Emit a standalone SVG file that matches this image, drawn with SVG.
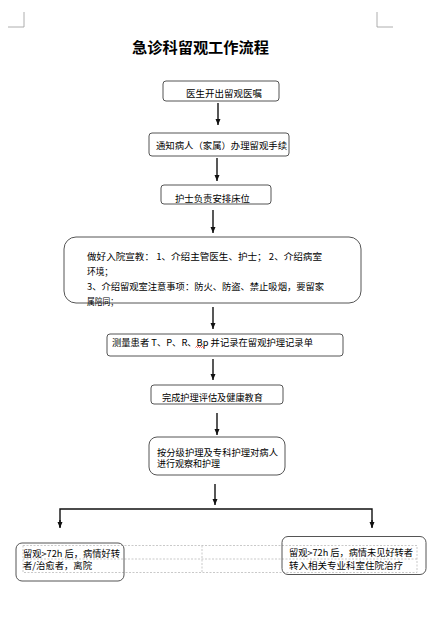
<svg xmlns="http://www.w3.org/2000/svg" width="440" height="618" viewBox="0 0 440 618">
<defs>
<style>
.box{fill:none;stroke:#555;stroke-width:1}
.t{font-family:"Noto Sans CJK SC","Liberation Sans",sans-serif;font-size:9px;fill:#000}
.title{font-family:"Noto Sans CJK SC","Liberation Sans",sans-serif;font-size:15px;font-weight:bold;fill:#000}
.ln{stroke:#111;stroke-width:1.4;fill:none}
.grid{stroke:#bbb;stroke-width:0.8;stroke-dasharray:2 1.5;fill:none}
.mark{stroke:#999;stroke-width:0.8;fill:none}
</style>
<marker id="ah" markerWidth="6" markerHeight="6" refX="6" refY="3" orient="auto" markerUnits="userSpaceOnUse" viewBox="0 0 6 6">
<path d="M0,0.5 L6,3 L0,5.5 Z" fill="#111"/>
</marker>
</defs>
<rect width="440" height="618" fill="#fff"/>
<!-- page corner marks -->
<path class="mark" d="M8,27 H24 V12 M377,12 V27 H393"/>
<text class="title" x="132" y="53" textLength="137" lengthAdjust="spacingAndGlyphs">急诊科留观工作流程</text>

<!-- dashed grid -->
<g id="grid">
<rect class="grid" x="23" y="545.5" width="394" height="27"/>
<line class="grid" x1="23" y1="559" x2="417" y2="559"/>
<line class="grid" x1="202" y1="545.5" x2="202" y2="572.5"/>
</g>

<g id="connectors">
<line class="ln" x1="218" y1="103" x2="218" y2="125" marker-end="url(#ah)"/>
<line class="ln" x1="217" y1="158" x2="217" y2="181" marker-end="url(#ah)"/>
<line class="ln" x1="213" y1="210" x2="213" y2="233" marker-end="url(#ah)"/>
<line class="ln" x1="213" y1="307" x2="213" y2="329" marker-end="url(#ah)"/>
<line class="ln" x1="213" y1="359" x2="213" y2="380" marker-end="url(#ah)"/>
<line class="ln" x1="217" y1="413" x2="217" y2="435" marker-end="url(#ah)"/>
<line class="ln" x1="215" y1="484" x2="215" y2="505" marker-end="url(#ah)"/>
<path class="ln" d="M60,527 V509 H372 V527" stroke-width="2"/>
<line class="ln" x1="60" y1="520" x2="60" y2="528" marker-end="url(#ah)"/>
<line class="ln" x1="372" y1="520" x2="372" y2="528" marker-end="url(#ah)"/>
</g>

<g id="n1">
<rect class="box" x="163" y="81" width="116" height="20" rx="3"/>
<text class="t" x="186" y="97" textLength="76" lengthAdjust="spacingAndGlyphs">医生开出留观医嘱</text>
</g>
<g id="n2">
<rect class="box" x="149" y="133" width="140" height="23" rx="3"/>
<text class="t" x="156" y="149" textLength="131" lengthAdjust="spacingAndGlyphs">通知病人（家属）办理留观手续</text>
</g>
<g id="n3">
<rect class="box" x="161" y="185" width="110" height="19" rx="3"/>
<text class="t" x="175" y="201.5" textLength="75" lengthAdjust="spacingAndGlyphs">护士负责安排床位</text>
</g>
<g id="n4">
<rect class="box" x="64" y="237" width="297" height="66" rx="12"/>
<text class="t" x="87" y="259.5" textLength="235" lengthAdjust="spacingAndGlyphs">做好入院宣教： 1、介绍主管医生、护士； 2、介绍病室</text>
<text class="t" x="87" y="275" textLength="26" lengthAdjust="spacingAndGlyphs">环境；</text>
<text class="t" x="87" y="290" textLength="237" lengthAdjust="spacingAndGlyphs">3、介绍留观室注意事项：防火、防盗、禁止吸烟，要留家</text>
<text class="t" x="87" y="305" textLength="31" lengthAdjust="spacingAndGlyphs">属陪同；</text>
</g>
<g id="n5">
<rect class="box" x="107" y="334" width="236" height="22" rx="3"/>
<text class="t" x="112" y="345.5" textLength="201" lengthAdjust="spacingAndGlyphs">测量患者 T、P、R、Bp 并记录在留观护理记录单</text>
<path d="M195.5,347.5 l1,-1 l1,1 l1,-1 l1,1 l1,-1 l1,1 l1,-1 l1,1 l1,-1" stroke="#d00" stroke-width="0.7" fill="none"/>
</g>
<g id="n6">
<rect class="box" x="151" y="385" width="132" height="19" rx="3"/>
<text class="t" x="162" y="400.5" textLength="101" lengthAdjust="spacingAndGlyphs">完成护理评估及健康教育</text>
</g>
<g id="n7">
<rect class="box" x="149" y="437" width="136" height="38" rx="8"/>
<text class="t" x="157" y="455.5" textLength="121" lengthAdjust="spacingAndGlyphs">按分级护理及专科护理对病人</text>
<text class="t" x="157" y="467" textLength="63" lengthAdjust="spacingAndGlyphs">进行观察和护理</text>
</g>
<g id="n8">
<rect class="box" x="16" y="543" width="108" height="38" rx="6"/>
<text class="t" x="23" y="556.5" textLength="97" lengthAdjust="spacingAndGlyphs">留观&gt;72h 后，病情好转</text>
<text class="t" x="23" y="568.5" textLength="69" lengthAdjust="spacingAndGlyphs">者/治愈者，离院</text>
</g>
<g id="n9">
<rect class="box" x="282" y="536.5" width="144" height="38" rx="6"/>
<text class="t" x="289" y="555.5" textLength="124" lengthAdjust="spacingAndGlyphs">留观&gt;72h 后，病情未见好转者</text>
<text class="t" x="289" y="569" textLength="114" lengthAdjust="spacingAndGlyphs">转入相关专业科室住院治疗</text>
</g>
</svg>
